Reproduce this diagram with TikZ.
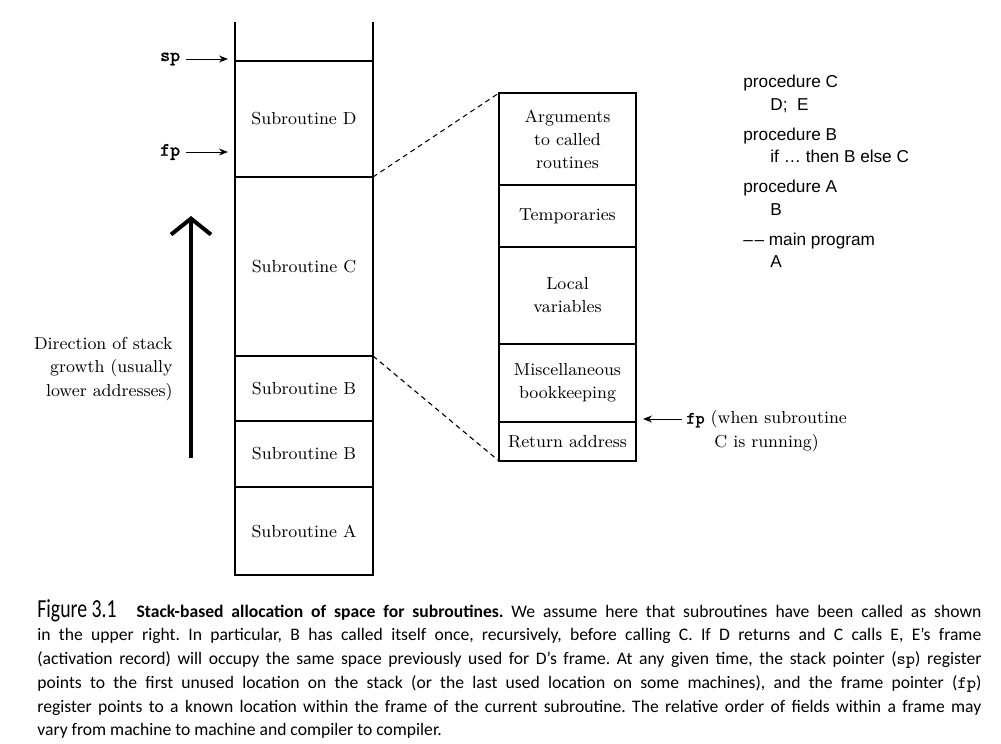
\documentclass[tikz,border=0pt]{standalone}
\usepackage{fontspec}
\newfontfamily\codefont{Liberation Sans}
\newfontfamily\capfont{Carlito}
\newfontfamily\regfont{Latin Modern Mono}[AutoFakeBold=1.3]
\usetikzlibrary{arrows.meta}
\tikzset{
  cell/.style={draw, line width=0.65pt, minimum width=69pt, inner sep=0pt, outer sep=0pt,
    align=center, font=\fontsize{8.7}{11.5}\selectfont},
  slot/.style={cell, minimum width=68.5pt},
  reg/.style={inner sep=2.5pt, font=\fontsize{9.5}{11}\selectfont\regfont\bfseries},
  ptr/.style={-{Stealth[length=4.5pt,width=3.5pt]}, line width=0.5pt},
  zoomline/.style={line width=0.55pt, dash pattern=on 2.5pt off 2pt},
  growarrow/.style={line width=2pt, -{Straight Barb[length=8pt,width=20pt]}},
  note/.style={inner sep=0pt, font=\fontsize{8.7}{11.8}\selectfont},
}
\begin{document}
\begin{tikzpicture}[x=0.5pt,y=-0.5pt]
  \useasboundingbox (0,0) rectangle (1001,744);
  % stack of frames
  \node[cell, minimum height=58pt] (subD) at (304,119) {Subroutine D};
  \node[cell, minimum height=89.5pt] (subC) at (304,266.5) {Subroutine C};
  \node[cell, minimum height=32.5pt] (subB) at (304,388.5) {Subroutine B};
  \node[cell, minimum height=33pt] (subBB) at (304,454) {Subroutine B};
  \node[cell, minimum height=44pt] (subA) at (304,531) {Subroutine A};
  \coordinate (topL) at (235,22); \coordinate (topR) at (373,22);
  \draw[line width=0.65pt] (topL) -- (subD.north west);
  \draw[line width=0.65pt] (topR) -- (subD.north east);
  % pointers
  \node[reg, anchor=east] (sp) at (185.5,59) {sp};
  \coordinate (sptip) at (228,59);
  \draw[ptr] (sp) -- (sptip);
  \node[reg, anchor=east] (fp) at (185.5,152) {fp};
  \coordinate (fptip) at (228,152);
  \draw[ptr] (fp) -- (fptip);
  % growth arrow
  \coordinate (growbot) at (191,458); \coordinate (growtop) at (191,216);
  \draw[growarrow] (growbot) -- (growtop);
  \node[note, anchor=east, align=right] (growlbl) at (173,369)
    {Direction of stack\\growth (usually\\lower addresses)};
  % frame of C
  \node[slot, minimum height=46pt] (args) at (567.5,139) {Arguments\\to called\\routines};
  \node[slot, minimum height=31pt] (temps) at (567.5,216) {Temporaries};
  \node[slot, minimum height=48.5pt] (locals) at (567.5,295.5) {Local\\variables};
  \node[slot, minimum height=39pt] (misc) at (567.5,383) {Miscellaneous\\bookkeeping};
  \node[slot, minimum height=19.5pt] (ret) at (567.5,441.5) {Return address};
  \draw[zoomline] (subD.south east) -- (args.north west);
  \draw[zoomline] (subC.south east) -- (ret.south west);
  \node[note, anchor=west, align=center] (fpnote) at (686,431)
    {{\regfont\bfseries fp} (when subroutine\\C is running)};
  \coordinate (fptail) at (682,419); \coordinate (fpend) at (643,419);
  \draw[ptr] (fptail) -- (fpend);
  % program
  \node[inner sep=0pt, anchor=north west, align=left,
    font=\fontsize{8.6}{11.25}\selectfont\codefont] (prog) at (743,75)
    {procedure C\\\hspace*{13.5pt}D;\ \ E\\[3.75pt]
     procedure B\\\hspace*{13.5pt}if \dots\ then B else C\\[3.75pt]
     procedure A\\\hspace*{13.5pt}B\\[3.75pt]
     –\kern0.8pt– main program\\\hspace*{13.5pt}A};
  % caption
  \node[inner sep=0pt, anchor=north west, text width=472pt, align=justify,
    font=\fontsize{8.8}{11.85}\selectfont\capfont\frenchspacing] (cap) at (37,599)
    {{\scalebox{0.76}[1]{\fontsize{13}{13}\selectfont Figure 3.1}}\hspace{6pt}
     {\bfseries Stack-based allocation of space for subroutines.} We assume here that subroutines have been called as shown\linebreak
     in the upper right. In particular, B has called itself once, recursively, before calling C. If D returns and C calls E, E’s frame\linebreak
     (activation record) will occupy the same space previously used for D’s frame. At any given time, the stack pointer (\texttt{sp}) register\linebreak
     points to the first unused location on the stack (or the last used location on some machines), and the frame pointer (\texttt{fp})\linebreak
     register points to a known location within the frame of the current subroutine. The relative order of fields within a frame may\linebreak
     vary from machine to machine and compiler to compiler.};
\end{tikzpicture}
\end{document}
